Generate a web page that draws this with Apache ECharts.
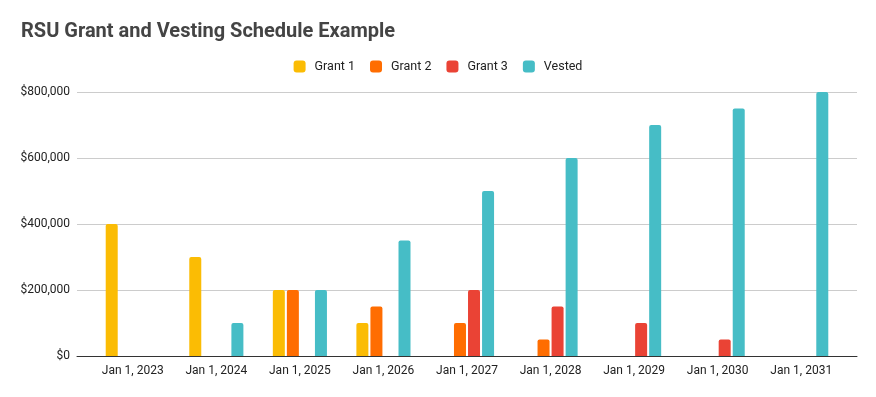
<!DOCTYPE html>
<html>
<head>
<meta charset="utf-8">
<script src="https://cdn.jsdelivr.net/npm/echarts@6/dist/echarts.min.js"></script>
<style>
  html, body { margin: 0; padding: 0; background: #fff; }
  #chart { width: 876px; height: 397px; }
</style>
</head>
<body>
<div id="chart"></div>
<script>
var categories = ['Jan 1, 2023', 'Jan 1, 2024', 'Jan 1, 2025', 'Jan 1, 2026', 'Jan 1, 2027',
                  'Jan 1, 2028', 'Jan 1, 2029', 'Jan 1, 2030', 'Jan 1, 2031'];
var grant1 = [400000, 300000, 200000, 100000, 0, 0, 0, 0, 0];
var grant2 = [0, 0, 200000, 150000, 100000, 50000, 0, 0, 0];
var grant3 = [0, 0, 0, 0, 200000, 150000, 100000, 50000, 0];
var vested = [0, 100000, 200000, 350000, 500000, 600000, 700000, 750000, 800000];
var yTicks = [0, 200000, 400000, 600000, 800000];

var chart = echarts.init(document.getElementById('chart'));
var font = 'Roboto';

function bar(name, data, color) {
  return {
    name: name,
    type: 'bar',
    xAxisIndex: 1,
    yAxisIndex: 1,
    barWidth: 12,
    barGap: '17%',
    itemStyle: { color: color, borderRadius: [2, 2, 0, 0] },
    data: data
  };
}

var option = {
  animation: false,
  textStyle: { fontFamily: font },
  title: {
    text: 'RSU Grant and Vesting Schedule Example',
    left: 16,
    top: 17,
    textStyle: { fontFamily: font, fontSize: 20, fontWeight: 'bold', color: '#444444' }
  },
  legend: {
    left: 'center',
    top: 55,
    itemWidth: 12,
    itemHeight: 12,
    itemGap: 15,
    icon: 'roundRect',
    textStyle: { fontFamily: font, fontSize: 12.5, color: '#222222', padding: [0, 0, 0, 4] },
    data: ['Grant 1', 'Grant 2', 'Grant 3', 'Vested']
  },
  grid: [
    { left: 77, right: 19, top: 92, bottom: 41 },
    { left: 91, right: 33, top: 92, bottom: 41 }
  ],
  xAxis: [
    {
      gridIndex: 0, type: 'value', min: 0, max: 1,
      axisLine: { show: true, lineStyle: { color: '#333333', width: 1 } },
      axisTick: { show: false }, axisLabel: { show: false }, splitLine: { show: false }
    },
    {
      gridIndex: 1, type: 'category', data: categories,
      axisLine: { show: false }, axisTick: { show: false },
      axisLabel: { fontFamily: font, fontSize: 12, color: '#222222', margin: 9 }
    }
  ],
  yAxis: [
    {
      gridIndex: 0, type: 'value', min: 0, max: 800000, interval: 200000,
      axisLine: { show: false }, axisTick: { show: false },
      axisLabel: {
        fontFamily: font, fontSize: 12, color: '#222222', margin: 7,
        formatter: function (v) { return '$' + v.toLocaleString('en-US'); }
      },
      splitLine: { lineStyle: { color: '#cccccc', width: 1 } }
    },
    {
      gridIndex: 1, type: 'value', min: yTicks[0], max: yTicks[yTicks.length - 1],
      interval: 200000, show: false, splitLine: { show: false }
    }
  ],
  series: [
    bar('Grant 1', grant1, '#fbbc04'),
    bar('Grant 2', grant2, '#ff6d01'),
    bar('Grant 3', grant3, '#ea4335'),
    bar('Vested', vested, '#46bdc6')
  ]
};

chart.setOption(option);
</script>
</body>
</html>
